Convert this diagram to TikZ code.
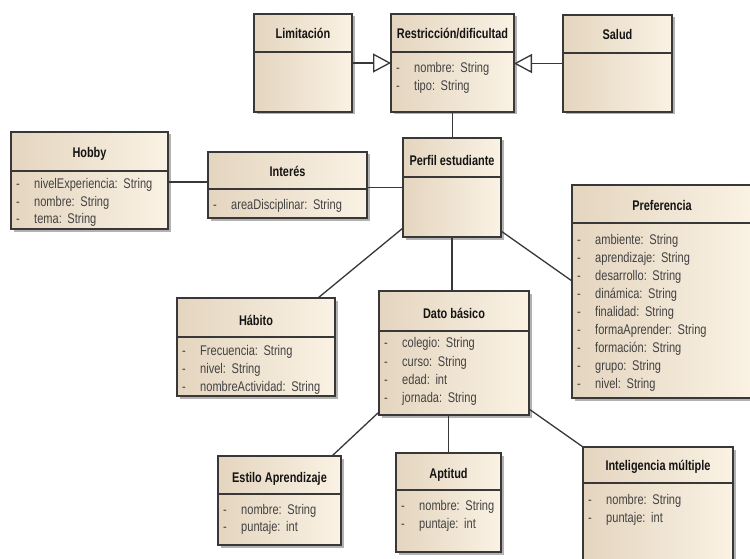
\documentclass[tikz,border=0pt]{standalone}
\usepackage{fontspec}
\setmainfont{Liberation Sans}
\newfontfamily\umlfont[FakeStretch=0.78]{Liberation Sans}
\newfontfamily\umlattrfont[FakeStretch=0.79, WordSpace=1.5]{Liberation Sans}
\usetikzlibrary{shadows,arrows.meta}
\definecolor{boxL}{HTML}{E4D5BF}
\definecolor{boxR}{HTML}{FAF2E4}
\definecolor{edgec}{HTML}{383838}
\definecolor{attrgray}{HTML}{424242}
\tikzset{
  umlbox/.style={draw=edgec, line width=1.3pt, left color=boxL, right color=boxR,
    inner sep=0pt, outer sep=0pt,
    drop shadow={shadow xshift=2.5pt, shadow yshift=-2.5pt, fill=black, opacity=0.3}},
  conn/.style={draw=edgec, line width=1.3pt},
  hdrline/.style={draw=edgec, line width=1.3pt},
  ttl/.style={font=\umlfont\bfseries\fontsize{14}{16}\selectfont, text=black!92, inner sep=0pt, anchor=base},
  att/.style={font=\umlattrfont\fontsize{14}{16}\selectfont, text=attrgray, inner sep=0pt, anchor=base west},
  gen/.style={-{Triangle[length=18pt, width=19pt, fill=white]}},
}
\newcounter{attrn}
% name x1 y1 x2 y2 header-y title title-y
\newcommand\umlclass[8]{%
  \node[umlbox, anchor=north west, minimum width={#4-#2}, minimum height={#5-#3}] (#1) at (#2,#3) {};
  \coordinate (#1h) at (#2,#6);
  \draw[hdrline] (#1h) -- (#1h -| #1.east);
  \node[ttl] (#1t) at ({(#2+#4)/2},{#8+5}) {#7};
}
% x y text
\newcommand\umlattr[3]{%
  \stepcounter{attrn}%
  \node[att] (d\theattrn) at ({#1+5},{#2+4.8}) {-};
  \node[att] (a\theattrn) at ({#1+23},{#2+4.8}) {#3};
}
\begin{document}
\begin{tikzpicture}[x=1pt,y=-1pt]
\fill[white] (0,0) rectangle (750,559);
\useasboundingbox (0,0) rectangle (750,559);

\umlclass{limitacion}{254}{14}{352}{112}{52}{Limitación}{34}
\umlclass{restriccion}{391}{14}{514}{112}{52}{Restricción/dificultad}{34}
\umlattr{391}{68}{nombre: String}
\umlattr{391}{86}{tipo: String}
\umlclass{salud}{563}{15}{672}{112}{53}{Salud}{35}

\umlclass{hobby}{11}{132}{168}{229}{171}{Hobby}{153}
\umlattr{11}{184}{nivelExperiencia: String}
\umlattr{11}{202}{nombre: String}
\umlattr{11}{219}{tema: String}

\umlclass{interes}{208}{152}{367}{218}{189}{Interés}{172}
\umlattr{208}{205}{areaDisciplinar: String}

\umlclass{perfil}{403}{138}{501}{237}{177}{Perfil estudiante}{160}

\umlclass{preferencia}{572}{185}{752}{398}{223}{Preferencia}{206}
\umlattr{572}{240}{ambiente: String}
\umlattr{572}{258}{aprendizaje: String}
\umlattr{572}{276}{desarrollo: String}
\umlattr{572}{294}{dinámica: String}
\umlattr{572}{312}{finalidad: String}
\umlattr{572}{330}{formaAprender: String}
\umlattr{572}{348}{formación: String}
\umlattr{572}{366}{grupo: String}
\umlattr{572}{384}{nivel: String}

\umlclass{habito}{177}{298}{335}{396}{337}{Hábito}{320}
\umlattr{177}{351}{Frecuencia: String}
\umlattr{177}{369}{nivel: String}
\umlattr{177}{387}{nombreActividad: String}

\umlclass{dato}{379}{291}{529}{415}{331}{Dato básico}{313}
\umlattr{379}{343}{colegio: String}
\umlattr{379}{362}{curso: String}
\umlattr{379}{380}{edad: int}
\umlattr{379}{398}{jornada: String}

\umlclass{estilo}{218}{456}{341}{545}{494}{Estilo Aprendizaje}{477}
\umlattr{218}{510}{nombre: String}
\umlattr{218}{527}{puntaje: int}

\umlclass{aptitud}{396}{453}{501}{552}{490}{Aptitud}{473}
\umlattr{396}{506}{nombre: String}
\umlattr{396}{524}{puntaje: int}

\umlclass{inteligencia}{583}{447}{733}{575}{483}{Inteligencia múltiple}{465}
\umlattr{583}{500}{nombre: String}
\umlattr{583}{518}{puntaje: int}

% connectors
\draw[conn, gen] (limitacion.east) -- (limitacion.east -| restriccion.west);
\draw[conn, gen] (salud.west) -- (salud.west -| restriccion.east);
\draw[conn] (restriccion.south) -- (restriccion.south |- perfil.north);
\draw[conn] ([yshift=-1.5pt]hobby.east) coordinate (hi) -- (hi -| interes.west);
\draw[conn] (perfil.west -| interes.east) -- (perfil.west);
\draw[conn] ([yshift=9pt]perfil.south west) -- ([xshift=-17pt]habito.north east);
\draw[conn] ([yshift=6pt]perfil.south east) -- ([yshift=-96pt]preferencia.north west);
\draw[conn] (perfil.south) -- (perfil.south |- dato.north);
\draw[conn] ([yshift=3pt]dato.south west) -- ([xshift=-9pt]estilo.north east);
\draw[conn] (aptitud.north |- dato.south) -- (aptitud.north);
\draw[conn] ([yshift=6pt]dato.south east) -- (inteligencia.north west);
\end{tikzpicture}
\end{document}
